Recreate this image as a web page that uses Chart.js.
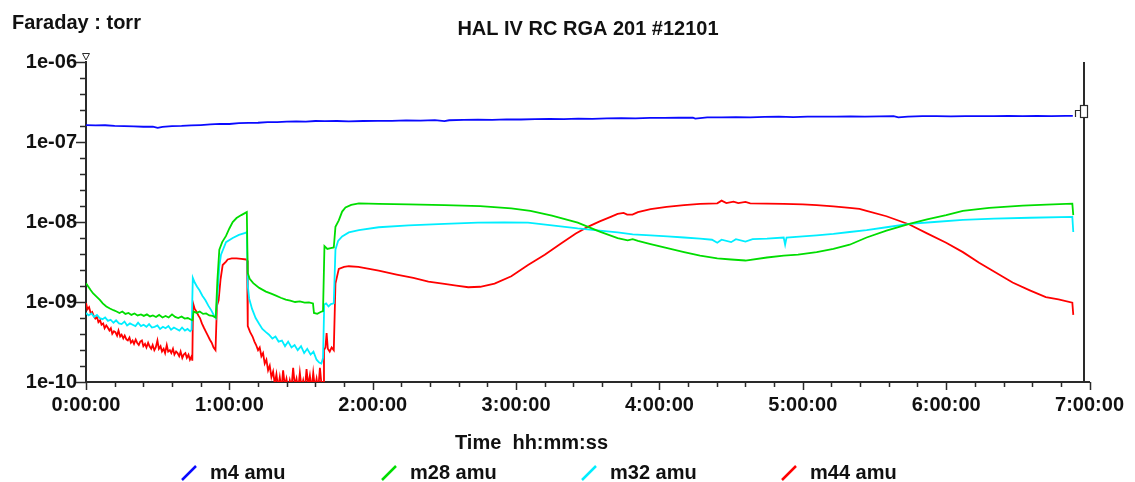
<!DOCTYPE html>
<html>
<head>
<meta charset="utf-8">
<title>HAL IV RC RGA 201 #12101</title>
<script src="https://cdn.jsdelivr.net/npm/chart.js@4.4.0/dist/chart.umd.min.js"></script>
<style>
  html, body { margin: 0; padding: 0; background: #fff; }
</style>
</head>
<body>
<canvas id="rga" width="1135" height="482"></canvas>
<script>
// RGA trend, Faraday cup partial pressures (torr) vs elapsed minutes
const seriesNames = ['m4 amu', 'm28 amu', 'm32 amu', 'm44 amu'];
const xTickLabels = ['0:00:00', '1:00:00', '2:00:00', '3:00:00', '4:00:00', '5:00:00', '6:00:00', '7:00:00'];
const yTickLabels = ['1e-10', '1e-09', '1e-08', '1e-07', '1e-06'];

// cursor readout position (minutes, torr)
const cursorMin = 417.5;
const cursorVal = 2.4e-7;

// [minute, torr]
const m4 = [
  [0,1.63e-7],[4,1.61e-7],[8,1.62e-7],[12,1.59e-7],[16,1.58e-7],[20,1.57e-7],[24,1.55e-7],[28,1.56e-7],
  [30,1.50e-7],[32,1.55e-7],[36,1.58e-7],[40,1.59e-7],[44,1.61e-7],[48,1.63e-7],[52,1.66e-7],[56,1.68e-7],
  [60,1.68e-7],[64,1.72e-7],[68,1.73e-7],[72,1.74e-7],[76,1.77e-7],[80,1.77e-7],[84,1.80e-7],[88,1.81e-7],
  [92,1.80e-7],[96,1.83e-7],[100,1.82e-7],[105,1.83e-7],[110,1.81e-7],[116,1.83e-7],[122,1.84e-7],
  [128,1.84e-7],[134,1.86e-7],[140,1.85e-7],[146,1.88e-7],[150,1.82e-7],[152,1.87e-7],[158,1.89e-7],
  [164,1.90e-7],[170,1.89e-7],[176,1.92e-7],[182,1.91e-7],[188,1.93e-7],[194,1.94e-7],[200,1.93e-7],
  [206,1.96e-7],[212,1.95e-7],[218,1.97e-7],[224,1.98e-7],[230,1.97e-7],[236,2.00e-7],[242,2.00e-7],
  [248,2.02e-7],[254,2.01e-7],[255,1.96e-7],[260,2.03e-7],[266,2.03e-7],[272,2.04e-7],[278,2.03e-7],
  [284,2.06e-7],[290,2.07e-7],[296,2.05e-7],[302,2.07e-7],[308,2.08e-7],[314,2.07e-7],[320,2.09e-7],
  [326,2.08e-7],[332,2.09e-7],[338,2.10e-7],[340,2.03e-7],[344,2.08e-7],[350,2.10e-7],[356,2.10e-7],
  [362,2.09e-7],[368,2.11e-7],[374,2.10e-7],[380,2.11e-7],[386,2.12e-7],[392,2.10e-7],[398,2.12e-7],
  [404,2.11e-7],[410,2.12e-7],[413,2.12e-7]
];

const m28 = [
  [0,1.72e-9],[1,1.55e-9],[2,1.4e-9],[3,1.28e-9],[4.5,1.16e-9],[5.8,1.06e-9],[7,9.6e-10],[8.5,8.8e-10],
  [10,8.3e-10],[11.5,7.9e-10],[12.8,7.6e-10],[14,7.3e-10],[15.2,7.6e-10],[16.5,7.1e-10],[17.8,7.3e-10],
  [19,6.9e-10],[20.3,7.2e-10],[21.6,6.8e-10],[23,7.0e-10],[24.2,6.7e-10],[25.5,7.0e-10],[26.8,6.6e-10],
  [28,6.8e-10],[29.3,6.5e-10],[30.6,6.9e-10],[32,6.4e-10],[33.3,6.7e-10],[34.6,6.4e-10],[36,7.0e-10],
  [37.3,6.5e-10],[38.6,6.3e-10],[40,6.6e-10],[41.3,6.2e-10],[42.6,6.3e-10],[44,6.0e-10],[44.6,5.9e-10],
  [45,7.6e-10],[46.3,7.3e-10],[47.6,7.6e-10],[49,7.1e-10],[50.3,7.2e-10],[51.6,6.8e-10],[53,6.7e-10],[54.3,6.4e-10],
  [55,1.9e-9],[55.8,4.5e-9],[57,5.6e-9],[58.6,6.7e-9],[60,8.3e-9],[61.4,1.0e-8],[63,1.12e-8],[65,1.22e-8],
  [66.7,1.3e-8],[67.3,1.33e-8],
  [67.7,2.3e-9],[68.5,1.95e-9],[70,1.72e-9],[72.5,1.5e-9],[75.3,1.35e-9],[77.5,1.27e-9],[79.5,1.2e-9],
  [81.5,1.13e-9],[83.6,1.07e-9],[85.5,1.04e-9],[87.5,1.0e-9],[89.5,1.02e-9],[91.5,0.98e-9],[93.3,0.99e-9],[95,0.96e-9],
  [95.4,7.3e-10],[96.8,7.1e-10],[98.2,7.5e-10],[99.2,7.7e-10],
  [99.8,5.0e-9],[101,4.6e-9],[102.4,4.7e-9],[103.7,4.8e-9],
  [104.4,8.7e-9],[105.8,1.05e-8],[107.2,1.35e-8],[108.6,1.52e-8],[111,1.64e-8],[114.2,1.71e-8],[122.5,1.68e-8],
  [135,1.66e-8],[150,1.63e-8],[165,1.58e-8],[178,1.48e-8],[186,1.38e-8],[195,1.2e-8],[205.8,9.8e-9],
  [215,7.6e-9],[222.5,6.3e-9],[226.7,5.9e-9],[228.8,6.1e-9],[231,5.8e-9],[236.3,5.3e-9],[243.3,4.7e-9],
  [250.3,4.2e-9],[257,3.8e-9],[264.2,3.5e-9],[270,3.4e-9],[276,3.3e-9],[285,3.6e-9],[292,3.8e-9],[298,3.9e-9],
  [305.8,4.2e-9],[312.8,4.6e-9],[319.6,5.2e-9],[326.7,6.4e-9],[335,7.8e-9],[344.6,9.5e-9],[352,1.08e-8],
  [360,1.22e-8],[367,1.38e-8],[378,1.5e-8],[392,1.6e-8],[402,1.65e-8],[412.8,1.7e-8],[413.2,1.22e-8]
];

const m32 = [
  [0,7.3e-10],[1.1,6.8e-10],[2.3,7.2e-10],[3.4,6.5e-10],[4.6,6.9e-10],[5.7,6.3e-10],[6.9,6.1e-10],[8,6.4e-10],
  [9.2,5.8e-10],[10.3,6.0e-10],[11.5,5.5e-10],[12.6,5.9e-10],[13.8,5.4e-10],[14.9,5.3e-10],[16.1,5.7e-10],
  [17.2,5.1e-10],[18.4,5.4e-10],[19.5,5.2e-10],[20.7,5.0e-10],[21.8,5.5e-10],[23,5.0e-10],[24.1,5.2e-10],
  [25.3,4.9e-10],[26.4,5.3e-10],[27.6,4.8e-10],[28.7,4.9e-10],[29.9,5.1e-10],[31,4.6e-10],[32.2,4.9e-10],
  [33.3,4.7e-10],[34.5,5.0e-10],[35.6,4.5e-10],[36.8,4.8e-10],[37.9,4.6e-10],[39.1,4.4e-10],[40.2,4.8e-10],
  [41.4,4.4e-10],[42.5,4.6e-10],[43.6,4.3e-10],[44.2,4.5e-10],
  [44.7,2.0e-9],[45.5,1.75e-9],[46.5,1.55e-9],[47.5,1.4e-9],[48.7,1.2e-9],[50,1.05e-9],[51.2,9.0e-10],
  [52.5,7.8e-10],[53.75,6.6e-10],[54.3,6.3e-10],
  [55,1.2e-9],[55.8,2.8e-9],[56.5,3.9e-9],[58.6,5.6e-9],[61.4,6.3e-9],[64,6.9e-9],[66.7,7.3e-9],[67.3,7.5e-9],
  [67.7,1.6e-9],[68.3,1.1e-9],[69.5,8.2e-10],[71,6.3e-10],[72.5,5.3e-10],[73.8,4.6e-10],[75.3,4.2e-10],
  [76.6,3.9e-10],[78,3.5e-10],[79.3,3.7e-10],[80.6,3.2e-10],[82,3.3e-10],[83.3,2.8e-10],[84.6,3.2e-10],
  [86,2.7e-10],[87.3,2.9e-10],[88.6,2.5e-10],[90,2.8e-10],[91.3,2.3e-10],[92.6,2.6e-10],[94,2.2e-10],
  [95.2,2.4e-10],[96.5,1.9e-10],[97.6,1.75e-10],[98.5,1.7e-10],[99.2,2.0e-10],
  [99.7,9.3e-10],[100.5,9.6e-10],[101.5,8.8e-10],[102.5,9.4e-10],[103.7,9.6e-10],
  [104.4,4.5e-9],[105.5,5.8e-9],[107.2,6.6e-9],[110,7.4e-9],[114.2,7.9e-9],[122.5,8.6e-9],[135,9.1e-9],
  [150,9.5e-9],[164,9.8e-9],[175,9.9e-9],[185,9.8e-9],[195,9.1e-9],[205.8,8.3e-9],[215,7.8e-9],
  [222.5,7.4e-9],[228.8,7.0e-9],[236.3,6.8e-9],[243.3,6.6e-9],[250.3,6.4e-9],[257,6.2e-9],[262,6.0e-9],
  [264.2,5.5e-9],[266,6.0e-9],[270,5.6e-9],[272,6.1e-9],[276,5.7e-9],[279,6.1e-9],[285,6.2e-9],[292,6.4e-9],
  [292.6,5.2e-9],[293.2,6.4e-9],[300,6.6e-9],[305.8,6.8e-9],[312.8,7.1e-9],[319.6,7.5e-9],[326.7,7.9e-9],
  [335,8.6e-9],[344.6,9.5e-9],[355,1.0e-8],[367,1.06e-8],[380,1.1e-8],[395,1.13e-8],[412.8,1.16e-8],[413.2,7.5e-9]
];

const m44 = [
  [0,9.7e-10],[0.6,8.1e-10],[1.3,8.6e-10],[2,7.2e-10],[2.6,7.5e-10],[3.3,6.6e-10],[3.9,6.2e-10],[4.6,6.5e-10],
  [5.2,5.6e-10],[5.9,5.9e-10],[6.5,5.2e-10],[7.2,5.4e-10],[7.8,4.7e-10],[8.5,5.1e-10],[9.1,4.8e-10],
  [9.8,4.4e-10],[10.4,4.7e-10],[11,4.0e-10],[11.7,4.3e-10],[12.3,4.2e-10],[13,3.8e-10],[13.6,4.4e-10],
  [14.3,3.7e-10],[14.9,3.9e-10],[15.6,3.5e-10],[16.2,3.8e-10],[16.9,3.4e-10],[17.5,3.3e-10],[18.2,3.6e-10],
  [18.8,3.1e-10],[19.5,3.3e-10],[20.1,3.0e-10],[20.8,3.4e-10],[21.4,3.1e-10],[22.1,2.9e-10],[22.7,3.2e-10],
  [23.4,3.3e-10],[24,2.8e-10],[24.7,3.0e-10],[25.3,2.7e-10],[26,3.1e-10],[26.6,2.8e-10],[27.3,2.6e-10],
  [27.9,2.9e-10],[28.6,2.5e-10],[29.2,2.7e-10],[29.9,3.3e-10],[30.5,2.6e-10],[31.2,2.8e-10],[31.8,2.4e-10],
  [32.5,2.6e-10],[33.1,2.3e-10],[33.8,2.9e-10],[34.4,2.4e-10],[35.1,2.5e-10],[35.7,2.3e-10],[36.4,2.6e-10],
  [37,2.2e-10],[37.7,2.4e-10],[38.3,2.3e-10],[39,2.1e-10],[39.6,2.4e-10],[40.3,2.0e-10],[40.9,2.2e-10],
  [41.6,2.3e-10],[42.2,2.0e-10],[42.9,2.2e-10],[43.5,1.9e-10],[44.2,2.1e-10],[44.5,1.85e-10],
  [44.8,9.7e-10],[45.5,8.2e-10],[46.2,7.6e-10],[47,6.8e-10],[47.7,6.3e-10],[48.5,5.4e-10],[49.3,4.8e-10],
  [50.1,4.3e-10],[51,3.8e-10],[51.8,3.4e-10],[52.6,3.1e-10],[53.4,2.7e-10],[54.2,2.5e-10],
  [54.8,9.0e-10],[55.5,1.05e-9],[56.3,1.9e-9],[57.2,2.9e-9],[58.6,3.2e-9],[59.3,3.4e-9],[61,3.5e-9],
  [63,3.5e-9],[65,3.45e-9],[67,3.4e-9],[67.4,3.3e-9],
  [67.7,5.0e-10],[68.7,4.2e-10],[69.7,3.7e-10],[70.5,3.2e-10],[71.2,2.9e-10],[72,2.5e-10],[72.7,2.7e-10],
  [73.4,2.1e-10],[74.1,2.3e-10],[74.8,1.7e-10],[75.5,1.9e-10],[76.2,1.4e-10],[76.9,1.6e-10],[77.6,1.15e-10],
  [78.3,1.35e-10],[79,0.95e-10],[79.7,1.25e-10],[80.4,0.85e-10],[81.1,1.15e-10],[81.8,0.8e-10],[82.5,1.4e-10],
  [83.2,0.9e-10],[83.9,1.1e-10],[84.6,0.8e-10],[85.3,1.05e-10],[86,0.85e-10],[86.7,1.5e-10],[87.4,0.9e-10],
  [88.1,1.1e-10],[88.8,0.8e-10],[89.5,1.3e-10],[90.2,0.85e-10],[90.9,1.05e-10],[91.6,0.8e-10],[92.3,1.45e-10],
  [93,0.9e-10],[93.7,1.2e-10],[94.4,0.8e-10],[95.1,1.3e-10],[95.8,0.85e-10],[96.5,1.1e-10],[97.2,0.8e-10],
  [97.9,1.5e-10],[98.6,0.9e-10],[99.2,1.0e-10],
  [99.6,2.5e-10],[100.2,2.7e-10],[100.7,4.1e-10],[101.2,2.6e-10],[102,2.4e-10],[102.8,2.7e-10],[103.7,2.5e-10],
  [104.4,1.7e-9],[105.8,2.6e-9],[108,2.75e-9],[110,2.8e-9],[114,2.75e-9],[122.5,2.46e-9],[130,2.2e-9],
  [137,2.0e-9],[143.3,1.8e-9],[150,1.68e-9],[155,1.6e-9],[160,1.53e-9],[165,1.55e-9],[171,1.7e-9],
  [178,2.1e-9],[185,2.9e-9],[192,3.9e-9],[198.8,5.4e-9],[205,7.2e-9],[210,8.7e-9],[215,1.02e-8],
  [219.6,1.16e-8],[222.5,1.26e-8],[225,1.3e-8],[226.5,1.24e-8],[228.7,1.24e-8],[231,1.33e-8],[236.3,1.45e-8],
  [243,1.55e-8],[250.3,1.63e-8],[257,1.68e-8],[264.2,1.71e-8],[266,1.85e-8],[268,1.72e-8],[271,1.8e-8],
  [273,1.72e-8],[276,1.78e-8],[278,1.71e-8],[285,1.70e-8],[292,1.68e-8],[300,1.66e-8],[305.8,1.63e-8],
  [312.8,1.57e-8],[319.6,1.5e-8],[323.7,1.46e-8],[326.7,1.38e-8],[335,1.18e-8],[344.6,9.3e-9],[352,7.2e-9],
  [360,5.5e-9],[367,4.2e-9],[373.8,3.1e-9],[380,2.4e-9],[387.8,1.75e-9],[395,1.4e-9],[401.7,1.15e-9],
  [407,1.08e-9],[412.8,0.98e-9],[413.2,6.9e-10]
];

const lineColors = ['#0a0aff', '#00dd00', '#00eeff', '#ff0000'];
const FONT = '"Liberation Sans", Arial, sans-serif';
const INK = '#111';
const AXIS = '#2a2a2a';

// titles, legend, tick marks and the cursor drawn on top of the chart
const decor = {
  id: 'decor',
  afterDraw(chart) {
    const { ctx, chartArea: a, scales: { x, y } } = chart;
    ctx.save();

    ctx.strokeStyle = AXIS;
    ctx.lineWidth = 1.5;
    ctx.beginPath();
    x.ticks.forEach(t => {
      const px = Math.round(x.getPixelForValue(t.value)) + 0.5;
      const len = t.value % 60 === 0 ? 8 : 5;
      ctx.moveTo(px, a.bottom);
      ctx.lineTo(px, a.bottom + len);
    });
    y.ticks.forEach((t, i) => {
      const py = Math.round(y.getPixelForValue(t.value)) + 0.5;
      const len = i % 5 === 0 ? 10 : 6;
      ctx.moveTo(a.left, py);
      ctx.lineTo(a.left - len, py);
    });
    ctx.stroke();

    // small marker at the top of the value axis
    ctx.lineWidth = 1;
    ctx.beginPath();
    ctx.moveTo(a.left - 3.5, a.top - 8.5);
    ctx.lineTo(a.left + 3.5, a.top - 8.5);
    ctx.lineTo(a.left, a.top - 2);
    ctx.closePath();
    ctx.stroke();

    // cursor line with readout box
    const cx = Math.round(x.getPixelForValue(cursorMin));
    const cy = Math.round(y.getPixelForValue(cursorVal));
    ctx.lineWidth = 2;
    ctx.beginPath();
    ctx.moveTo(cx, a.top);
    ctx.lineTo(cx, a.bottom);
    ctx.stroke();
    ctx.fillStyle = '#fff';
    ctx.lineWidth = 1.2;
    ctx.fillRect(cx - 3.5, cy - 6.5, 7, 12);
    ctx.strokeRect(cx - 3.5, cy - 6.5, 7, 12);
    ctx.beginPath();
    ctx.moveTo(cx - 8.5, cy + 5);
    ctx.lineTo(cx - 8.5, cy - 1.5);
    ctx.lineTo(cx - 3.5, cy - 1.5);
    ctx.stroke();

    // texts
    ctx.fillStyle = INK;
    ctx.font = 'bold 20px ' + FONT;
    ctx.textBaseline = 'alphabetic';
    ctx.textAlign = 'left';
    ctx.fillText('Faraday : torr', 12, 29);
    ctx.textAlign = 'center';
    ctx.fillText('HAL IV RC RGA 201 #12101', 588, 35);
    ctx.textAlign = 'left';
    ctx.fillText('Time  hh:mm:ss', 455, 449);

    // legend row with slanted line swatches
    chart.data.datasets.forEach((ds, i) => {
      const lx = 182 + i * 200;
      ctx.strokeStyle = ds.borderColor;
      ctx.lineWidth = 2.5;
      ctx.beginPath();
      ctx.moveTo(lx, 480);
      ctx.lineTo(lx + 14, 466);
      ctx.stroke();
      ctx.fillStyle = INK;
      ctx.fillText(ds.label, lx + 28, 479);
    });

    ctx.restore();
  }
};

const datasets = [m4, m28, m32, m44].map((pts, i) => ({
  label: seriesNames[i],
  data: pts.map(([t, v]) => ({ x: t, y: v })),
  borderColor: lineColors[i],
  borderWidth: 1.8,
  pointRadius: 0,
  tension: 0,
  fill: false
}));

new Chart(document.getElementById('rga').getContext('2d'), {
  type: 'line',
  data: { datasets },
  options: {
    responsive: false,
    animation: false,
    layout: { padding: { top: 62, right: 41, left: 0, bottom: 0 } },
    plugins: {
      legend: { display: false },
      title: { display: false },
      tooltip: { enabled: false }
    },
    scales: {
      x: {
        type: 'linear',
        min: 0,
        max: 420,
        afterBuildTicks: s => {
          s.ticks = [];
          for (let m = 0; m <= 420; m += 12) s.ticks.push({ value: m });
        },
        afterFit: s => { s.height = 100; },
        grid: { display: true, drawOnChartArea: false, drawTicks: false },
        border: { display: true, color: AXIS, width: 2 },
        ticks: {
          autoSkip: false,
          maxRotation: 0,
          padding: 11,
          color: INK,
          font: { family: FONT, size: 20, weight: 'bold' },
          callback: v => (v % 60 === 0 ? xTickLabels[v / 60] : '')
        }
      },
      y: {
        type: 'logarithmic',
        min: 1e-10,
        max: 1e-6,
        afterBuildTicks: s => {
          s.ticks = [];
          for (let k = 0; k <= 20; k++) s.ticks.push({ value: Math.pow(10, -10 + k * 0.2) });
        },
        afterFit: s => { s.width = 86; },
        grid: { display: true, drawOnChartArea: false, drawTicks: false },
        border: { display: true, color: AXIS, width: 2 },
        ticks: {
          autoSkip: false,
          padding: 9,
          color: INK,
          font: { family: FONT, size: 20, weight: 'bold' },
          callback: (v, i) => (i % 5 === 0 ? yTickLabels[i / 5] : '')
        }
      }
    }
  },
  plugins: [decor]
});
</script>
</body>
</html>
